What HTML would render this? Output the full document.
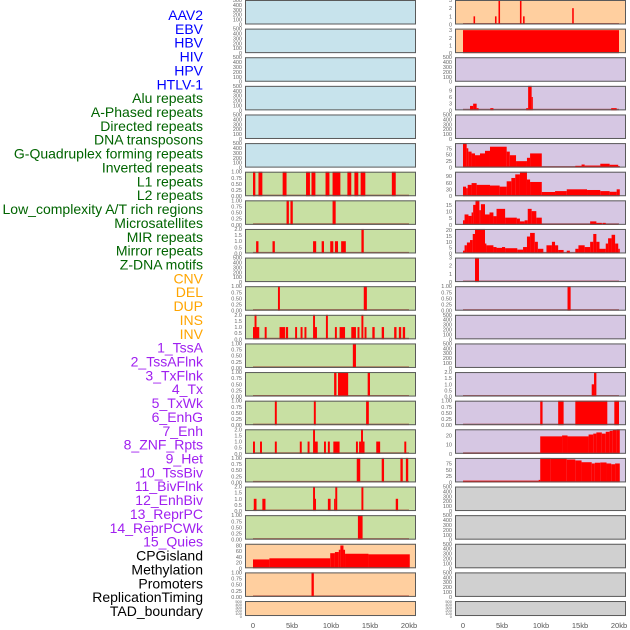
<!DOCTYPE html>
<html><head><meta charset="utf-8">
<style>
body{margin:0;background:#fff;}
svg{display:block;font-family:"Liberation Sans",sans-serif;}
</style></head>
<body>
<svg id="chart" width="630" height="630" viewBox="0 0 630 630" xmlns="http://www.w3.org/2000/svg"></svg>
<script>
// ---------- data ----------
const labels = ["AAV2","EBV","HBV","HIV","HPV","HTLV-1","Alu repeats","A-Phased repeats","Directed repeats","DNA transposons","G-Quadruplex forming repeats","Inverted repeats","L1 repeats","L2 repeats","Low_complexity A/T rich regions","Microsatellites","MIR repeats","Mirror repeats","Z-DNA motifs","CNV","DEL","DUP","INS","INV","1_TssA","2_TssAFlnk","3_TxFlnk","4_Tx","5_TxWk","6_EnhG","7_Enh","8_ZNF_Rpts","9_Het","10_TssBiv","11_BivFlnk","12_EnhBiv","13_ReprPC","14_ReprPCWk","15_Quies","CPGisland","Methylation","Promoters","ReplicationTiming","TAD_boundary"];
const labelGroups = ["virus","virus","virus","virus","virus","virus","rep","rep","rep","rep","rep","rep","rep","rep","rep","rep","rep","rep","rep","sv","sv","sv","sv","sv","chr","chr","chr","chr","chr","chr","chr","chr","chr","chr","chr","chr","chr","chr","chr","other","other","other","other","other"];
const xTicks = [0,5,10,15,20];
const xTickLabels = ["0","5kb","10kb","15kb","20kb"];
const ticksEmpty = [0,100,200,300,400,500];
const ticksBin = [0,0.25,0.5,0.75,1];
const ticksTwo = [0,0.5,1,1.5,2];
const ticksThree = [0,1,2,3];

// segments: [startKb, endKb, value]
const L6 = [[0,0.3,1],[0.7,1.2,1],[3.8,4.3,1],[6.8,7.3,1],[7.5,8,1],[9.3,9.8,1],[10.2,11.2,1],[12.1,12.6,1],[13.0,13.5,1],[13.8,14.4,1],[17.8,18.3,1]];
const L7 = [[4.3,4.6,1],[4.8,5.1,1],[10.2,10.6,1]];
const L8 = [[0.4,0.7,1],[2.5,2.8,1],[7.7,8.1,1],[8.8,9.1,1],[9.9,10.3,1],[10.5,10.9,1],[11.3,11.9,1],[13.9,14.2,2]];
const L10 = [[3.2,3.45,1],[14.2,14.6,1]];
const L11 = [[0,0.8,1],[0.2,0.45,2],[1.5,1.75,1],[3.4,4.1,1],[4.2,4.5,1],[5.4,5.65,1],[6.1,6.35,1],[6.6,6.85,1],[7.7,7.95,2],[7.95,8.2,1],[9.35,9.6,2],[10.5,10.75,1],[11.1,11.8,1],[12.6,13.2,1],[13.4,13.65,1],[13.9,14.15,2],[14.3,14.55,1],[15.3,15.6,1],[16.5,16.8,1],[18.1,18.4,1],[18.7,19.0,1],[19.2,19.5,1]];
const L12 = [[12.8,13.2,1]];
const L13 = [[10.4,10.7,1],[10.9,12.2,1],[14.7,15.0,1]];
const L14 = [[2.8,3.05,1],[7.8,8.05,1],[14.5,14.85,1]];
const L15 = [[0,0.25,1],[0.9,1.15,1],[2.8,3.05,1],[6.0,6.25,1],[7.0,7.25,1],[7.7,7.95,2],[7.95,8.3,1],[9.1,9.35,1],[9.6,9.85,1],[10.3,11.1,1],[13.2,13.45,1],[13.6,13.85,1],[13.85,14.1,2],[14.1,14.3,1],[15.8,16.3,1],[19.4,19.65,1]];
const L16 = [[13.3,13.75,1],[16.5,16.8,1],[18.9,19.2,1],[19.6,19.9,1]];
const L17 = [[0.1,0.45,1],[1.2,1.6,1],[7.7,7.95,2],[7.95,8.05,1],[9.6,9.95,1],[10.4,10.55,1],[10.55,10.8,2],[13.9,14.15,2],[18.3,18.6,1]];
const L18 = [[13.45,14.05,1]];
const L19 = [[0,2.1,31],[2.1,9.9,35],[9.9,10.5,53],[10.5,11.0,57],[11.0,11.2,65],[11.2,11.6,80],[11.6,11.8,65],[11.8,14.8,51],[14.8,20.1,49]];
const L20 = [[7.5,7.8,1]];
const R0 = [[1.35,1.55,1],[4.1,4.3,1],[4.55,4.75,3],[7.3,7.5,3],[7.7,7.9,1],[14.0,14.2,2]];
const R1 = [[0,20.0,3]];
const R3 = [[0.9,1.3,2],[1.3,1.75,3],[1.75,2.0,1],[3.5,3.9,1],[8.1,8.35,1],[8.35,8.8,11],[8.8,8.95,6],[19.0,19.7,1]];
const R5 = [[0,0.47,95],[0.47,0.68,75],[0.68,1.1,62],[1.1,1.54,55],[1.54,2.18,48],[2.18,2.82,55],[2.82,3.46,65],[3.46,5.6,81],[5.6,6.0,62],[6.0,6.8,48],[6.8,8.2,25],[8.2,8.6,38],[8.6,10.1,55],[10.1,14.4,0.5],[14.4,15.2,7],[15.2,15.6,12],[15.6,17.6,8],[17.6,18.8,15],[18.8,19.9,11],[19.9,20.1,6]];
const R6 = [[0,0.4,43],[0.4,0.6,36],[0.6,1.1,51],[1.1,1.75,59],[1.75,3.46,51],[3.46,4.7,48],[4.7,5.6,43],[5.6,6.2,67],[6.2,6.7,82],[6.7,7.3,98],[7.3,8.2,110],[8.2,8.6,75],[8.6,10.1,64],[10.1,11.8,19],[11.8,13.3,23],[13.3,15.9,31],[15.9,17.6,28],[17.6,18.8,23],[18.8,19.7,20],[19.7,20.1,31]];
const R7 = [[0,0.2,3.4],[0.2,0.7,7.8],[0.7,1.1,6.7],[1.1,1.3,9.3],[1.3,1.6,15],[1.6,2.1,18.4],[2.1,2.3,11],[2.3,2.82,15.5],[2.82,3.4,7.8],[3.4,3.9,9.3],[3.9,4.3,6.5],[4.3,5.4,12],[5.4,6.9,5.4],[6.9,7.3,4.7],[7.3,7.9,2.6],[7.9,8.3,3.4],[8.3,8.8,12],[8.8,9.4,10.3],[9.4,10.1,5.4],[10.1,16.3,0.3],[16.3,17.1,2.6],[17.1,17.8,1.5],[17.9,18.3,1.5],[18.3,19.9,0.3]];
const R8 = [[0,0.2,2.4],[0.2,0.5,7],[0.5,0.9,9.4],[0.9,1.25,11.5],[1.25,1.54,16.7],[1.54,2.82,21],[2.82,3.0,8.5],[3.0,3.9,7],[3.9,4.3,5.5],[4.3,5.0,4.8],[5.0,5.4,5.5],[5.4,6.96,4.5],[6.96,7.7,3.3],[7.7,8.2,5.5],[8.2,8.6,14.5],[8.6,9.2,17.6],[9.2,9.6,10],[9.6,10.3,4],[10.3,10.7,0],[10.7,11.4,7],[11.4,11.8,10],[11.8,12.2,7],[12.2,12.9,3],[12.9,13.3,0],[13.3,13.7,2.4],[13.7,14.4,0],[14.4,14.8,4],[14.8,15.6,7],[15.6,16.3,5.5],[16.3,16.7,10],[16.7,17.1,16.7],[17.1,17.5,10],[17.5,18.3,4],[18.3,18.6,8.5],[18.6,19.05,13],[19.05,19.5,16],[19.5,19.9,8.5],[19.9,20.1,4]];
const R9 = [[1.54,2.05,3]];
const R10 = [[13.4,13.8,1]];
const R13 = [[16.5,16.8,1],[16.8,17.1,2]];
const R14 = [[9.9,10.2,1],[12.2,12.9,1],[14.4,18.5,1],[19.4,20.0,1]];
const R15 = [[0,9.9,0.5],[9.9,12.7,19],[12.7,13.4,20],[13.4,16.1,19],[16.1,16.7,21],[16.7,17.1,22],[17.1,17.8,23.3],[17.8,18.3,22],[18.3,18.8,24],[18.8,19.2,25],[19.2,19.7,26.3],[19.7,20.1,26.7]];
const R16 = [[0,9.7,7],[9.7,9.9,10],[9.9,11.2,97],[11.2,13.3,95],[13.3,14.4,91],[14.4,15.2,87],[15.2,16.5,80],[16.5,16.9,75],[16.9,17.6,78],[17.6,18.4,79],[18.4,19.0,75],[19.0,19.5,72],[19.5,20.1,75]];

// track meta: column, row, background, y-max, tick values, tick decimals, segments
const BLUE="#c7e3ec", GREEN="#c8e0a3", PEACH="#ffcf9f", PURPLE="#d6c7e3", GRAY="#d0d0d0";
const tracks = [
 [0,0,BLUE,500,ticksEmpty,0,[]],[0,1,BLUE,500,ticksEmpty,0,[]],[0,2,BLUE,500,ticksEmpty,0,[]],
 [0,3,BLUE,500,ticksEmpty,0,[]],[0,4,BLUE,500,ticksEmpty,0,[]],[0,5,BLUE,500,ticksEmpty,0,[]],
 [0,6,GREEN,1,ticksBin,2,L6],[0,7,GREEN,1,ticksBin,2,L7],[0,8,GREEN,2,ticksTwo,1,L8],
 [0,9,GREEN,500,ticksEmpty,0,[]],[0,10,GREEN,1,ticksBin,2,L10],[0,11,GREEN,2,ticksTwo,1,L11],
 [0,12,GREEN,1,ticksBin,2,L12],[0,13,GREEN,1,ticksBin,2,L13],[0,14,GREEN,1,ticksBin,2,L14],
 [0,15,GREEN,2,ticksTwo,1,L15],[0,16,GREEN,1,ticksBin,2,L16],[0,17,GREEN,2,ticksTwo,1,L17],
 [0,18,GREEN,1,ticksBin,2,L18],[0,19,PEACH,86,[0,20,40,60,80],0,L19],[0,20,PEACH,1,ticksBin,2,L20],
 [0,21,PEACH,500,ticksEmpty,0,[]],
 [1,0,PEACH,3,ticksThree,0,R0],[1,1,PEACH,3.2,ticksThree,0,R1],[1,2,PURPLE,500,ticksEmpty,0,[]],
 [1,3,PURPLE,11,[0,3,6,9],0,R3],[1,4,PURPLE,500,ticksEmpty,0,[]],[1,5,PURPLE,95,[0,25,50,75],0,R5],
 [1,6,PURPLE,110,[0,30,60,90],0,R6],[1,7,PURPLE,18.4,[0,5,10,15],0,R7],[1,8,PURPLE,21,[0,5,10,15,20],0,R8],
 [1,9,PURPLE,3,ticksThree,0,R9],[1,10,PURPLE,1,ticksBin,2,R10],[1,11,PURPLE,500,ticksEmpty,0,[]],
 [1,12,PURPLE,500,ticksEmpty,0,[]],[1,13,PURPLE,2,ticksTwo,1,R13],[1,14,PURPLE,1,ticksBin,2,R14],
 [1,15,PURPLE,26.7,[0,10,20],0,R15],[1,16,PURPLE,97,[0,25,50,75],0,R16],
 [1,17,GRAY,500,ticksEmpty,0,[]],[1,18,GRAY,500,ticksEmpty,0,[]],[1,19,GRAY,500,ticksEmpty,0,[]],
 [1,20,GRAY,500,ticksEmpty,0,[]],[1,21,GRAY,500,ticksEmpty,0,[]]
];

// ---------- drawing ----------
const NS="http://www.w3.org/2000/svg";
const svg=document.getElementById('chart');
function mk(tag,attrs,parent){const e=document.createElementNS(NS,tag);for(const k in attrs)e.setAttribute(k,attrs[k]);(parent||svg).appendChild(e);return e;}
const colX=[245,455], panelW=171;
function xScale(col,kb){return colX[col]+8+kb*7.8;}
function rowTop(r){return r*28.62;}
function rowH(r){return r===21?15:24.5;}
const groupColor={virus:"#0000ff",rep:"#006400",sv:"#ffa500",chr:"#a020f0",other:"#000000"};

labels.forEach((t,i)=>{
  const el=mk('text',{x:203,y:15+i*13.86+5,'text-anchor':'end','font-size':14,fill:groupColor[labelGroups[i]]});
  
  
  el.textContent=t;
});

tracks.forEach((tr,ti)=>{
  const [col,row,bg,ymax,ticks,dec,segs]=tr;
  const top=rowTop(row), h=rowH(row), x0=colX[col];
  const g=mk('g',{});
  
  
  const bgRect=mk('rect',{x:x0,y:top,width:panelW,height:h,fill:bg},g);
  
  
  const yS=v=>top+h-(v/ymax)*h;
  // baseline
  if(segs.length){
    const bl=mk('line',{x1:xScale(col,0),x2:xScale(col,20),y1:top+h-0.8,y2:top+h-0.8,stroke:'rgba(140,0,0,0.55)','stroke-width':1.5},g);
    
    
  }
  segs.forEach(s=>{
    const xa=xScale(col,s[0]), xb=xScale(col,s[1]);
    const y=yS(Math.min(s[2],ymax));
    const b=mk('rect',{x:xa,y:y,width:Math.max(xb-xa,1),height:top+h-y,fill:'#ff0000'},g);
    
    
  });
  const fr=mk('rect',{x:x0+0.5,y:top+0.5,width:panelW-1,height:h-1,fill:'none',stroke:'#5a5a5a','stroke-width':1},g);
  
  
  ticks.forEach(v=>{
    const t=mk('text',{x:x0-3,y:yS(v)+2,'text-anchor':'end','font-size':row===21?4:5.5,fill:'#666'},g);
    
    
    t.textContent=v.toFixed(dec);
  });
});

[0,1].forEach(col=>{
  xTicks.forEach((v,i)=>{
    const t=mk('text',{x:xScale(col,v),y:628,'text-anchor':'middle','font-size':7.5,fill:'#555'});
    
    
    t.textContent=xTickLabels[i];
  });
});
</script>
</body></html>
